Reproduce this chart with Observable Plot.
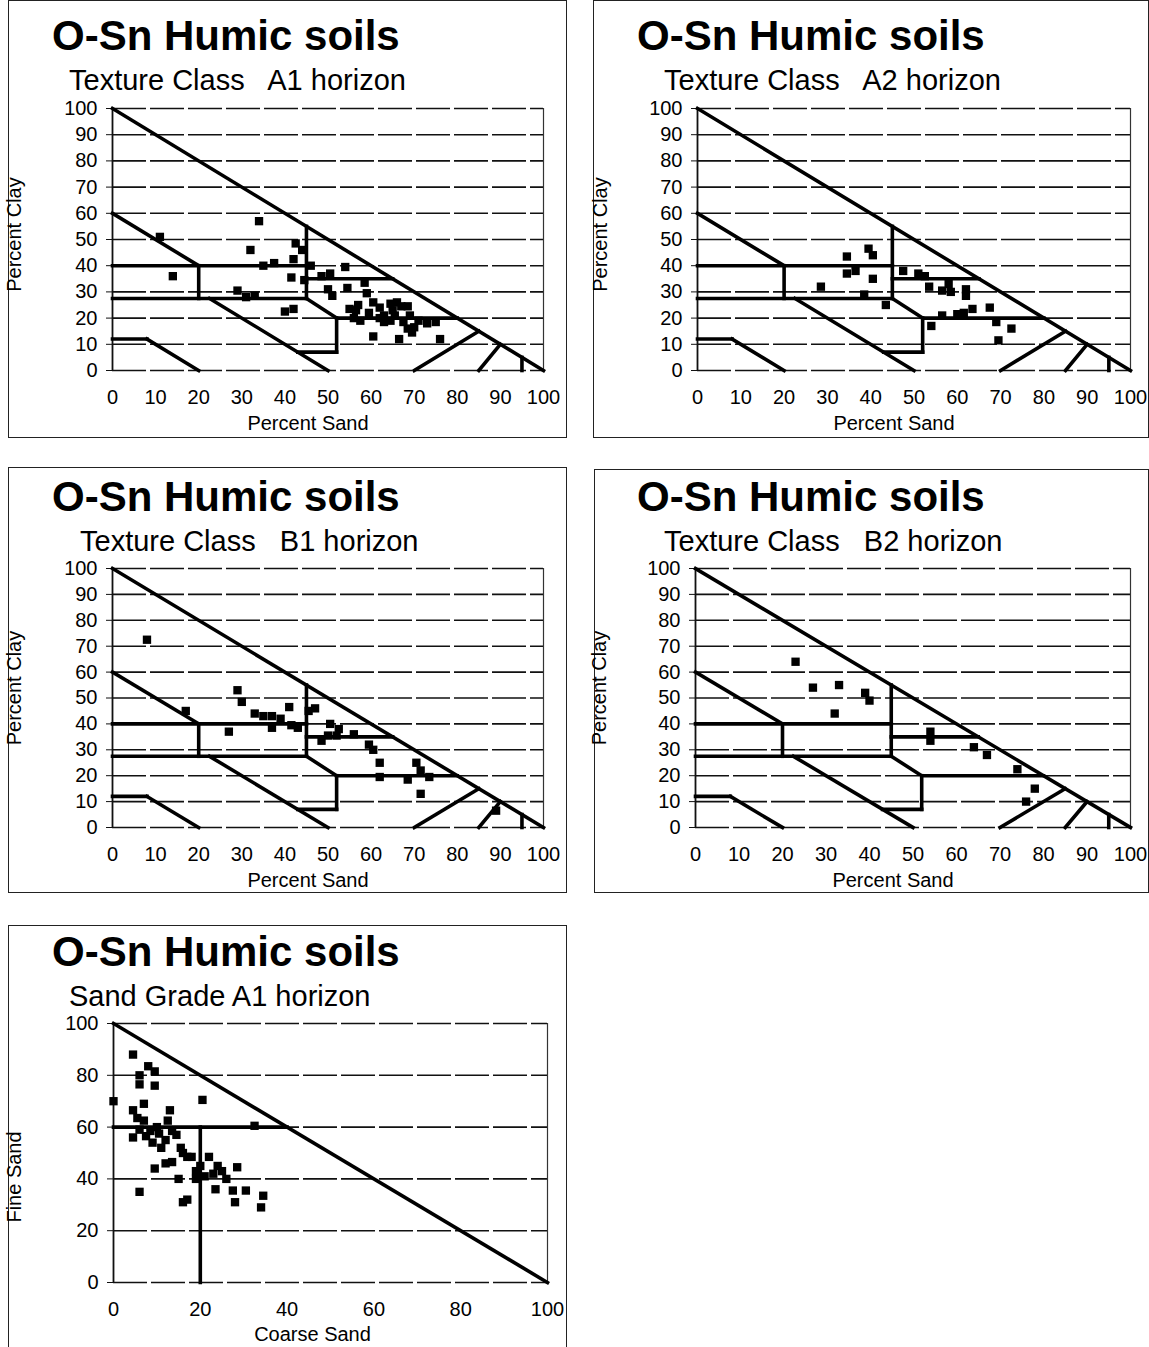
<!DOCTYPE html>
<html><head><meta charset="utf-8">
<script src="https://cdn.jsdelivr.net/npm/d3@7"></script>
<script src="https://cdn.jsdelivr.net/npm/@observablehq/plot@0.6"></script>
<style>
html,body{margin:0;padding:0;background:#fff;}
body{width:1149px;height:1347px;position:relative;overflow:hidden;font-family:"Liberation Sans",Arial,sans-serif;color:#000;}
.box{position:absolute;border:1.5px solid #222;box-sizing:border-box;}
.title{position:absolute;font-weight:bold;font-size:42px;line-height:1;white-space:pre;}
.sub{position:absolute;font-size:29px;line-height:1;white-space:pre;}
</style></head><body>
<script>
// ---- tick values ----
const textureTicks = [0,10,20,30,40,50,60,70,80,90,100];
const gradeTicks = [0,20,40,60,80,100];

// ---- texture class boundaries [sand1, clay1, sand2, clay2] ----
const textureBoundaries = [
  [0,100,100,0],[0,60,20,40],[0,40,45,40],[0,27.5,45,27.5],[20,27.5,20,40],
  [45,27.5,45,55],[45,35,65,35],[45,27.5,52,20],[52,20,80,20],[52,20,52,7],
  [52,7,43,7],[22.5,27.5,50,0],[0,12,8,12],[8,12,20,0],[70,0,85,15],
  [85,0,90,10],[95,0,95,5]
];
// ---- sand grade boundaries [coarse1, fine1, coarse2, fine2] ----
const gradeBoundaries = [[0,100,100,0],[0,60,40,60],[20,0,20,60]];

// ---- data: [percent sand, percent clay] ----
const a1Points = [[11,51],[14,36],[29,30.5],[31,28],[33,28.5],[34,57],[32,46],[35,40],[37.5,41],[40,22.5],[42,23.5],[41.5,35.5],[42,42.5],[42.5,48.5],[44,46],[44.5,34.5],[46,40],[48.5,36],[50.5,37],[50,31],[51,28.5],[54,39.5],[54.5,31.5],[55,23.5],[57,25],[56.5,23],[56,20],[58.5,33.5],[59,29.5],[57.5,19],[59.5,22],[60.5,13],[62,24],[63,21],[63,18.5],[64.5,25.5],[65,23],[65.5,21],[66,26],[67.5,18.5],[66.5,12],[67,24.5],[68.5,24.5],[69,21],[69.5,14.5],[70,16.5],[68.5,16],[71,19],[73,18],[75,18.5],[76,12],[60.5,26],[62,20],[64.5,19]];
const a2Points = [[28.5,32],[34.5,43.5],[34.5,37],[36.5,38],[39.5,46.5],[40.5,44],[40.5,35],[38.5,29],[43.5,25],[47.5,38],[51,37],[52.5,36],[53.5,32],[56.5,30.5],[58.5,30],[58,33],[62,31],[62,28.5],[63.5,23.5],[61.5,22],[60,21.5],[67.5,24],[56.5,21],[54,17],[69,18.5],[72.5,16],[69.5,11.5]];
const b1Points = [[8,72.5],[17,45],[27,37],[29,53],[30,48.5],[33,44],[35,43],[37,43],[37,38.5],[39,42],[41,46.5],[41.5,39.5],[43,38.5],[45.5,45],[47,46],[50.5,40],[52.5,38],[48.5,33.5],[50,35.5],[52,35.5],[56,36],[59.5,32],[60.5,30],[62,25],[62,19.5],[68.5,18.5],[70.5,25],[71.5,22],[73.5,19.5],[71.5,13],[89,6.5]];
const b2Points = [[23,64],[27,54],[33,55],[32,44],[39,52],[40,49],[54,37],[54,33.5],[64,31],[67,28],[74,22.5],[78,15],[76,10]];
// ---- data: [coarse sand, fine sand] ----
const gradePoints = [[4.5,88],[8,83.5],[9.5,81.5],[6,80],[6,76.5],[9.5,76],[0,70],[7,69],[20.5,70.5],[13,66.5],[4.5,66.5],[5.5,63.5],[7,62.5],[12.5,62.5],[32.5,60.5],[4.5,56],[7.5,56.5],[10.5,57.5],[13.5,58.5],[14.5,57],[8.5,58.5],[11,52],[15.5,52],[17,48.5],[18,48.5],[9.5,44],[12,46],[13.5,46.5],[15,40],[22,48.5],[24,45],[23,42],[28.5,44.5],[23.5,36],[27.5,35.5],[30.5,35.5],[28,31],[34.5,33.5],[34,29],[6,35],[16,31],[17,32],[19,40],[19,43],[10,60],[12,55],[6,59],[9,54],[16,50],[20,45],[21,41],[26,40],[25,43]];

const titleText = "O-Sn Humic soils";

// ---- panel layout ----
const panels = [
  {box:[8,0,559,438], title:[52,15], sub:[69,66], subText:"Texture Class   A1 horizon",
   frame:[112,543,108,370], pts:a1Points, bounds:textureBoundaries, ticks:textureTicks,
   xLabel:"Percent Sand", yLabel:"Percent Clay", xl:[-20,53], yl:[-98,-5]},
  {box:[593,0,556,438], title:[637,15], sub:[664,66], subText:"Texture Class   A2 horizon",
   frame:[697,1130,108,370], pts:a2Points, bounds:textureBoundaries, ticks:textureTicks,
   xLabel:"Percent Sand", yLabel:"Percent Clay", xl:[-20,53], yl:[-97,-5]},
  {box:[8,467,559,426], title:[52,476], sub:[80,527], subText:"Texture Class   B1 horizon",
   frame:[112,543,568,827], pts:b1Points, bounds:textureBoundaries, ticks:textureTicks,
   xLabel:"Percent Sand", yLabel:"Percent Clay", xl:[-20,53], yl:[-98,-10]},
  {box:[594,469,555,424], title:[637,476], sub:[664,527], subText:"Texture Class   B2 horizon",
   frame:[695,1130,568,827], pts:b2Points, bounds:textureBoundaries, ticks:textureTicks,
   xLabel:"Percent Sand", yLabel:"Percent Clay", xl:[-20,53], yl:[-96,-10]},
  {box:[8,925,559,440], title:[52,931], sub:[69,982], subText:"Sand Grade A1 horizon",
   frame:[113,547,1023,1282], pts:gradePoints, bounds:gradeBoundaries, ticks:gradeTicks,
   xLabel:"Coarse Sand", yLabel:"Fine Sand", xl:[-18,52], yl:[-99,24]}
];

const font = '"Liberation Sans", Arial, sans-serif';

for (const p of panels) {
  const box = document.createElement("div");
  box.className = "box";
  Object.assign(box.style, {left:p.box[0]+"px", top:p.box[1]+"px", width:p.box[2]+"px", height:p.box[3]+"px"});
  document.body.appendChild(box);

  const t = document.createElement("div");
  t.className = "title"; t.textContent = titleText;
  Object.assign(t.style, {left:p.title[0]+"px", top:p.title[1]+"px"});
  document.body.appendChild(t);

  const s = document.createElement("div");
  s.className = "sub"; s.textContent = p.subText;
  Object.assign(s.style, {left:p.sub[0]+"px", top:p.sub[1]+"px"});
  document.body.appendChild(s);

  const [L,R,T,B] = p.frame;
  const mL = 104, mR = 18, mT = 14, mB = 68;
  const chart = Plot.plot({
    width: (R-L)+mL+mR, height: (B-T)+mT+mB,
    marginLeft: mL, marginRight: mR, marginTop: mT, marginBottom: mB,
    x: {domain:[0,100]}, y: {domain:[0,100]},
    style: {fontFamily: font, fontSize: "20px", color: "#000", background: "transparent", overflow: "visible"},
    marks: [
      Plot.ruleY(p.ticks, {stroke:"#111", strokeWidth:1.6, strokeDasharray:"34,4"}),
      Plot.ruleX([0], {stroke:"#111", strokeWidth:1.8}),
      Plot.ruleX([100], {stroke:"#333", strokeWidth:1.2}),
      Plot.axisY({ticks:p.ticks, tickSize:6, tickPadding:9, label:null, fontSize:20, stroke:"#111"}),
      Plot.axisX({ticks:p.ticks, tickSize:0, tickPadding:19, label:null, fontSize:20}),
      Plot.link(p.bounds, {x1:d=>d[0], y1:d=>d[1], x2:d=>d[2], y2:d=>d[3], stroke:"#000", strokeWidth:3.6, strokeLinecap:"square"}),
      Plot.dot(p.pts, {x:d=>d[0], y:d=>d[1], symbol:"square", r:4.7, fill:"#000", stroke:"none"}),
      Plot.text([p.xLabel], {text:d=>d, frameAnchor:"bottom", lineAnchor:"middle", textAnchor:"middle", dx:p.xl[0], dy:p.xl[1], fontSize:20}),
      Plot.text([p.yLabel], {text:d=>d, frameAnchor:"left", lineAnchor:"middle", textAnchor:"middle", rotate:-90, dx:p.yl[0], dy:p.yl[1], fontSize:20})
    ]
  });
  chart.style.position = "absolute";
  chart.style.left = (L-mL)+"px";
  chart.style.top = (T-mT)+"px";
  document.body.appendChild(chart);
}
</script>
</body></html>
